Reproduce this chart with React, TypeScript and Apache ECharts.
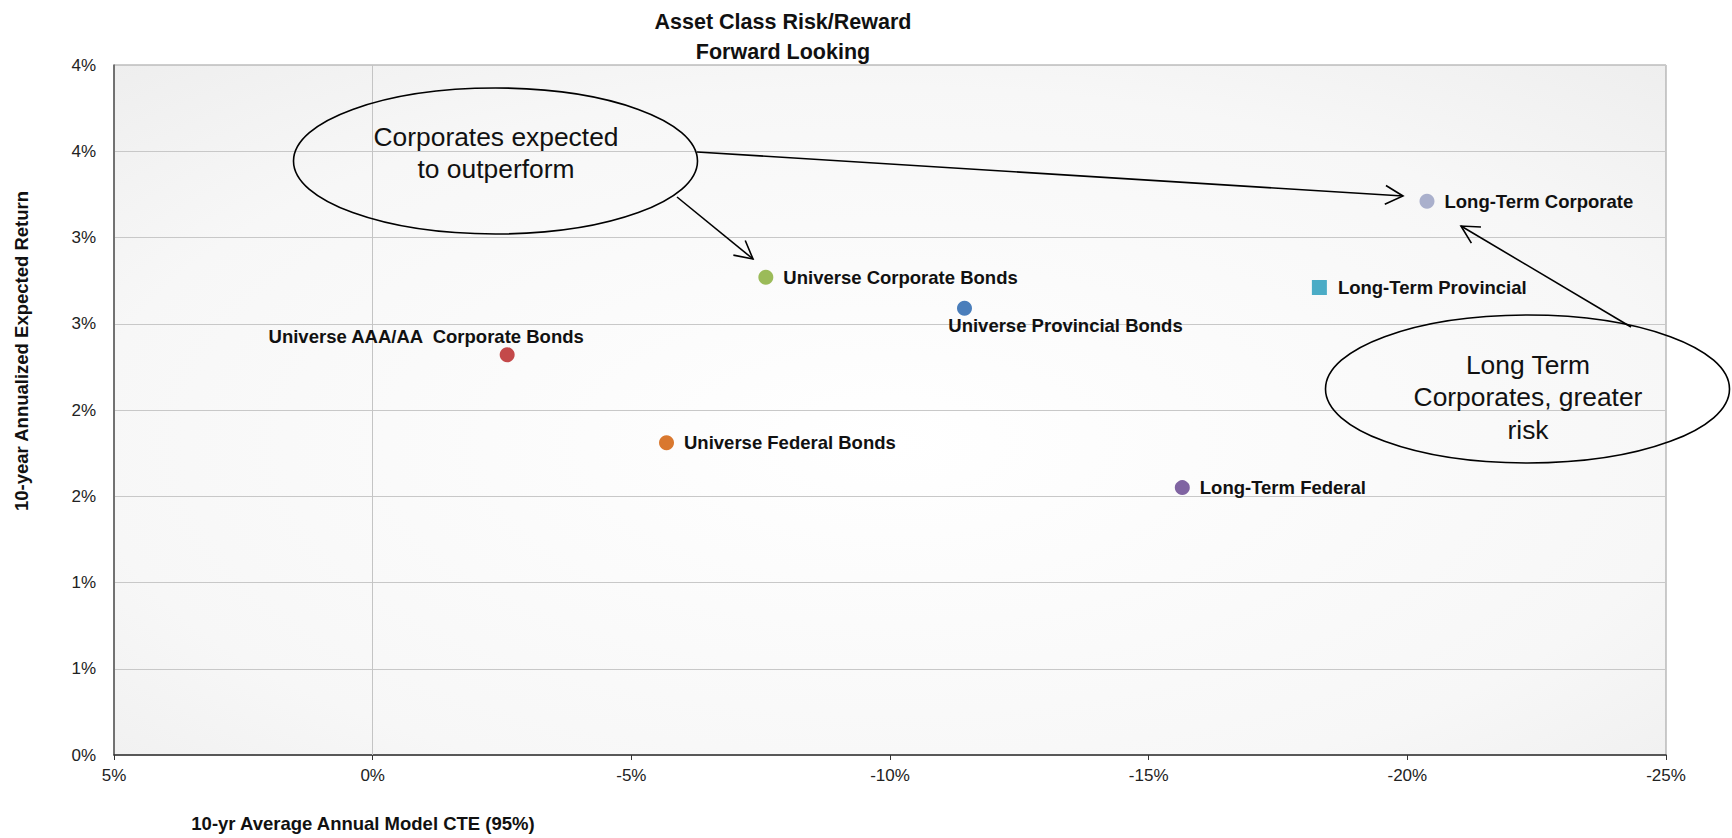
import React, { useEffect, useRef } from "react";
import * as echarts from "echarts";

// ---- Data ----
const assetNames = [
  "Universe AAA/AA  Corporate Bonds",
  "Universe Federal Bonds",
  "Universe Corporate Bonds",
  "Universe Provincial Bonds",
  "Long-Term Federal",
  "Long-Term Provincial",
  "Long-Term Corporate",
];
// 10-yr Average Annual Model CTE (95%), in %
const cteValues = [-2.6, -5.68, -7.6, -11.44, -15.65, -18.3, -20.38];
// 10-year Annualized Expected Return, in %
const returnValues = [2.32, 1.81, 2.77, 2.59, 1.55, 2.71, 3.21];

const yTickLabels = ["0%", "1%", "1%", "2%", "2%", "3%", "3%", "4%", "4%"];

const titleText = "Asset Class Risk/Reward\nForward Looking";
const xAxisTitle = "10-yr Average Annual Model CTE (95%)";
const yAxisTitle = "10-year Annualized Expected Return";
const note1 = "Corporates expected\nto outperform";
const note2 = "Long Term\nCorporates, greater\nrisk";

// ---- Styles ----
const FONT = "'Liberation Sans', Arial, Helvetica, sans-serif";
const colors = ["#c4494a", "#d9782f", "#9bbb59", "#4a7ebb", "#8064a2", "#4bacc6", "#aab0cc"];
const symbols = ["circle", "circle", "circle", "circle", "circle", "rect", "circle"];
const labelCfg: any[] = [
  { position: "top", distance: 1, offset: [-81, 0] },
  { position: "right", distance: 10 },
  { position: "right", distance: 10 },
  { position: "bottom", distance: 0, offset: [101, 0] },
  { position: "right", distance: 10 },
  { position: "right", distance: 11 },
  { position: "right", distance: 10 },
];

function arrow(x1: number, y1: number, x2: number, y2: number) {
  const ang = Math.atan2(y2 - y1, x2 - x1);
  const L = 20;
  const a = (28 * Math.PI) / 180;
  const p1 = [x2 - L * Math.cos(ang - a), y2 - L * Math.sin(ang - a)];
  const p2 = [x2 - L * Math.cos(ang + a), y2 - L * Math.sin(ang + a)];
  const st = { stroke: "#000", lineWidth: 1.6, fill: null };
  return [
    { type: "line", z: 100, shape: { x1, y1, x2, y2 }, style: st },
    { type: "polyline", z: 100, shape: { points: [p1, [x2, y2], p2] }, style: st },
  ];
}

export default function App() {
  const ref = useRef<HTMLDivElement>(null);

  useEffect(() => {
    document.body.style.margin = "0";
    document.body.style.overflow = "hidden";
    const chart = echarts.init(ref.current!, null, { renderer: "svg" });

    const series: any[] = assetNames.map((name, i) => ({
      name,
      type: "scatter",
      symbol: symbols[i],
      symbolSize: 15,
      itemStyle: { color: colors[i], opacity: 1 },
      data: [[cteValues[i], returnValues[i]]],
      label: {
        show: true,
        formatter: name,
        fontFamily: FONT,
        fontSize: 18.5,
        fontWeight: "bold",
        color: "#111",
        ...labelCfg[i],
      },
      z: 5,
      ...(i === 0
        ? {
            markLine: {
              silent: true,
              symbol: ["none", "none"],
              label: { show: false },
              lineStyle: { color: "#c4c4c4", width: 1, type: "solid" },
              data: [{ xAxis: 0 }],
              z: 1,
            },
          }
        : {}),
    }));

    const option: any = {
      animation: false,
      backgroundColor: "#ffffff",
      title: {
        text: titleText,
        left: 783,
        top: 7,
        padding: 0,
        textAlign: "center",
        textStyle: { fontFamily: FONT, fontSize: 21.5, fontWeight: "bold", color: "#111", lineHeight: 30 },
      },
      grid: {
        left: 114,
        top: 65,
        right: 66,
        bottom: 83,
        show: true,
        borderColor: "#9a9a9a",
        borderWidth: 1,
        backgroundColor: new echarts.graphic.RadialGradient(0.5, 0.55, 1.15, [
          { offset: 0, color: "#ffffff" },
          { offset: 0.45, color: "#f7f7f7" },
          { offset: 1, color: "#dedede" },
        ]),
      },
      xAxis: {
        type: "value",
        inverse: true,
        min: -25,
        max: 5,
        interval: 5,
        axisLine: { show: true, onZero: false, lineStyle: { color: "#333", width: 1.5 } },
        axisTick: { show: true, length: 5, lineStyle: { color: "#333" } },
        splitLine: { show: false },
        axisLabel: {
          formatter: (v: number) => `${v}%`,
          fontFamily: FONT,
          fontSize: 17,
          color: "#222",
          margin: 12,
        },
      },
      yAxis: {
        type: "value",
        min: 0,
        max: 4,
        interval: 0.5,
        axisLine: { show: true, onZero: false, lineStyle: { color: "#555", width: 1.5 } },
        axisTick: { show: false },
        splitLine: { show: true, lineStyle: { color: "#c8c8c8", width: 1 } },
        axisLabel: {
          formatter: (v: number) => yTickLabels[Math.round(v / 0.5)],
          fontFamily: FONT,
          fontSize: 17,
          color: "#222",
          margin: 18,
        },
      },
      series,
      graphic: [
        {
          type: "text",
          x: 21,
          y: 351,
          rotation: Math.PI / 2,
          z: 100,
          style: {
            text: yAxisTitle,
            fontFamily: FONT,
            fontSize: 18.5,
            fontWeight: "bold",
            fill: "#111",
            align: "center",
            verticalAlign: "middle",
          },
        },
        {
          type: "text",
          x: 363,
          y: 823,
          z: 100,
          style: {
            text: xAxisTitle,
            fontFamily: FONT,
            fontSize: 18.5,
            fontWeight: "bold",
            fill: "#111",
            align: "center",
            verticalAlign: "middle",
          },
        },
        {
          type: "ellipse",
          z: 100,
          shape: { cx: 495.5, cy: 161, rx: 202, ry: 73 },
          style: { fill: null, stroke: "#000", lineWidth: 1.6 },
        },
        {
          type: "text",
          x: 496,
          y: 153,
          z: 100,
          style: {
            text: note1,
            fontFamily: FONT,
            fontSize: 26.4,
            fill: "#111",
            align: "center",
            verticalAlign: "middle",
            lineHeight: 32,
          },
        },
        {
          type: "ellipse",
          z: 100,
          shape: { cx: 1527.5, cy: 389, rx: 202, ry: 74 },
          style: { fill: null, stroke: "#000", lineWidth: 1.6 },
        },
        {
          type: "text",
          x: 1528,
          y: 397,
          z: 100,
          style: {
            text: note2,
            fontFamily: FONT,
            fontSize: 26.4,
            fill: "#111",
            align: "center",
            verticalAlign: "middle",
            lineHeight: 32.5,
          },
        },
        ...arrow(697, 152, 1403, 196),
        ...arrow(677, 197, 753, 259),
        ...arrow(1631, 327, 1461, 226),
      ],
    };

    chart.setOption(option);
    return () => chart.dispose();
  }, []);

  return <div ref={ref} style={{ width: 1732, height: 838, position: "absolute", left: 0, top: 0 }} />;
}
